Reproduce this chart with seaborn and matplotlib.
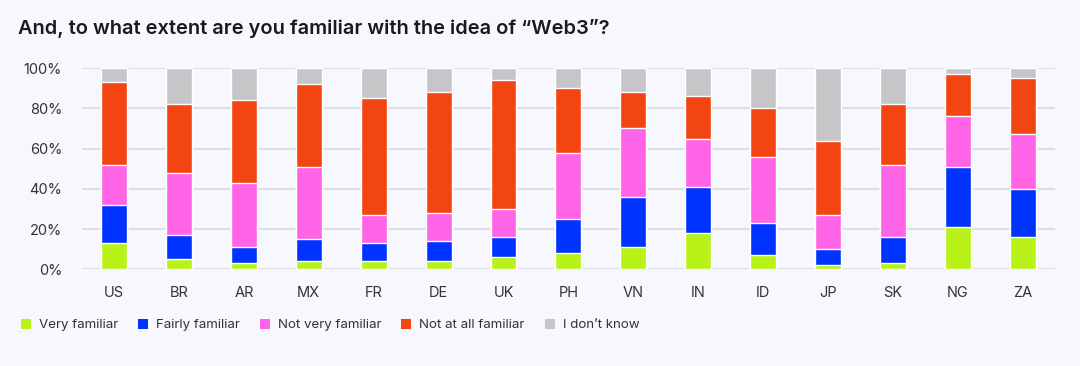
import matplotlib
matplotlib.use("Agg")
import matplotlib.pyplot as plt
from matplotlib.patches import Patch
import numpy as np
import pandas as pd
import seaborn as sns

# ----- data (share of respondents, %) -----
countries = ["US", "BR", "AR", "MX", "FR", "DE", "UK", "PH", "VN", "IN", "ID", "JP", "SK", "NG", "ZA"]
very_familiar = [13, 5, 3, 4, 4, 4, 6, 8, 11, 18, 7, 2, 3, 21, 16]
fairly_familiar = [19, 12, 8, 11, 9, 10, 10, 17, 25, 23, 16, 8, 13, 30, 24]
not_very_familiar = [20, 31, 32, 36, 14, 14, 14, 33, 34, 24, 33, 17, 36, 25, 27]
not_at_all_familiar = [41, 34, 41, 41, 58, 60, 64, 32, 18, 21, 24, 37, 30, 21, 28]
dont_know = [7, 18, 16, 8, 15, 12, 6, 10, 12, 14, 20, 36, 18, 3, 5]

answers = ["Very familiar", "Fairly familiar", "Not very familiar", "Not at all familiar", "I don\u2019t know"]
colors = ["#b9f218", "#0033ff", "#ff63e6", "#f24511", "#c6c6c8"]

bg = "#f7f8fd"

sns.set_theme(style="white")
plt.rcParams["font.family"] = ["Inter", "DejaVu Sans"]

df = pd.DataFrame({
    "country": countries,
    answers[0]: very_familiar,
    answers[1]: fairly_familiar,
    answers[2]: not_very_familiar,
    answers[3]: not_at_all_familiar,
    answers[4]: dont_know,
})
cum = df[answers].cumsum(axis=1)

fig = plt.figure(figsize=(10.8, 3.66), dpi=100, facecolor=bg)
ax = fig.add_axes([0.0756, 0.2637, 0.9014, 0.5505])
ax.set_facecolor(bg)

# gridlines behind bars
for v in range(0, 101, 20):
    ax.axhline(v, color="#dddee3", lw=1.4, zorder=0)

# stacked bars: draw cumulative totals from the top segment down
for ans, col in zip(answers[::-1], colors[::-1]):
    sns.barplot(x=df["country"], y=cum[ans], color=col, width=0.4,
                saturation=1, ax=ax, zorder=2)

ax.set_ylim(0, 100)
ax.set_xlim(-0.5, len(countries) - 0.5)
ax.set_yticks(range(0, 101, 20))
ax.set_yticklabels([f"{v}%" for v in range(0, 101, 20)])
ax.set_xlabel("")
ax.set_ylabel("")
ax.tick_params(axis="y", length=0, pad=14, labelsize=10.5, labelcolor="#333333")
ax.tick_params(axis="x", length=0, pad=12, labelsize=10.5, labelcolor="#333333")
sns.despine(ax=ax, left=True, bottom=True)

fig.text(0.017, 0.922, "And, to what extent are you familiar with the idea of \u201cWeb3\u201d?",
         fontsize=14.4, fontweight="semibold", color="#1a1a1a", va="center")

handles = [Patch(facecolor=c, edgecolor="none") for c in colors]
fig.legend(handles, answers, loc="center left", bbox_to_anchor=(0.008, 0.112), ncol=5,
           frameon=False, fontsize=9.6, handlelength=0.75, handleheight=0.75,
           handletextpad=0.6, columnspacing=1.5, labelcolor="#333333")

fig.savefig("out.png", dpi=100, facecolor=bg)
